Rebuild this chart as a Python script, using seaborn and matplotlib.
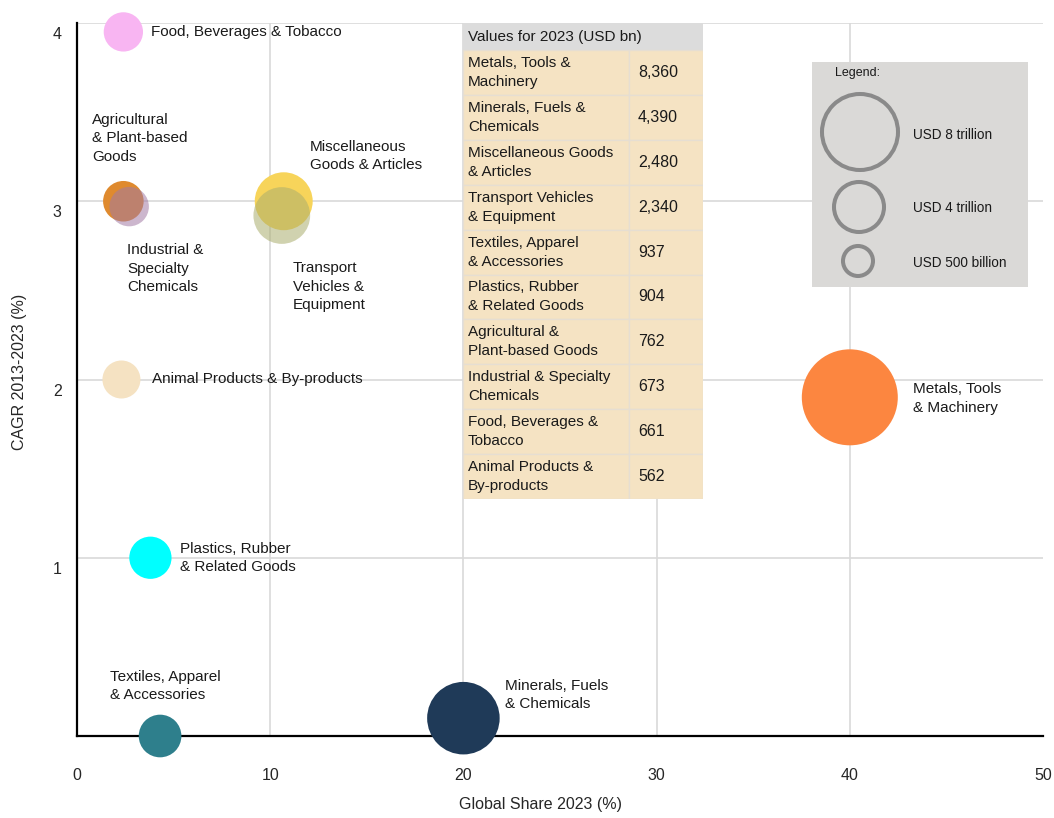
import numpy as np
import pandas as pd
import seaborn as sns
import matplotlib.pyplot as plt
from matplotlib.patches import Rectangle
from matplotlib.transforms import ScaledTranslation

# data (USD bn, global share %, CAGR %)
categories = ['Metals, Tools & Machinery', 'Minerals, Fuels & Chemicals',
              'Miscellaneous Goods & Articles', 'Transport Vehicles & Equipment',
              'Textiles, Apparel & Accessories', 'Plastics, Rubber & Related Goods',
              'Agricultural & Plant-based Goods', 'Industrial & Specialty Chemicals',
              'Food, Beverages & Tobacco', 'Animal Products & By-products']
values_2023 = [8360, 4390, 2480, 2340, 937, 904, 762, 673, 661, 562]
global_share = [40.0, 20.0, 10.7, 10.6, 4.3, 3.8, 2.4, 2.7, 2.4, 2.3]
cagr = [1.90, 0.10, 3.00, 2.92, 0.0, 1.0, 3.0, 2.97, 3.95, 2.0]

bubble_labels = ['Metals, Tools\n& Machinery', 'Minerals, Fuels\n& Chemicals',
                 'Miscellaneous\nGoods & Articles', 'Transport\nVehicles &\nEquipment',
                 'Textiles, Apparel\n& Accessories', 'Plastics, Rubber\n& Related Goods',
                 'Agricultural\n& Plant-based\nGoods', 'Industrial &\nSpecialty\nChemicals',
                 'Food, Beverages & Tobacco', 'Animal Products & By-products']
table_labels = ['Metals, Tools &\nMachinery', 'Minerals, Fuels &\nChemicals',
                'Miscellaneous Goods\n& Articles', 'Transport Vehicles\n& Equipment',
                'Textiles, Apparel\n& Accessories', 'Plastics, Rubber\n& Related Goods',
                'Agricultural &\nPlant-based Goods', 'Industrial & Specialty\nChemicals',
                'Food, Beverages &\nTobacco', 'Animal Products &\nBy-products']

legend_labels = ['USD 8 trillion', 'USD 4 trillion', 'USD 500 billion']

colors = ['#FC8640', '#1F3A58', '#F7D45A', '#ABAE6E', '#2E7F8C',
          '#00FFFF', '#DF8A2E', '#A27AA4', '#F8B5F2', '#F5E2C2']
translucent = [False, False, False, True, False, False, False, True, False, False]

# label offsets from bubble centre, pixels
label_offsets = [(63, -1), (42, 23), (26, 45), (11, -71), (-50, 50),
                 (30, 0), (-31, 63), (-2, -62), (28, 0), (31, 0)]

df = pd.DataFrame({'cat': categories, 'value': values_2023,
                   'share': global_share, 'cagr': cagr,
                   'translucent': translucent})
palette = dict(zip(categories, colors))

sns.set_style('white')
plt.rcParams['font.family'] = ['Liberation Sans', 'DejaVu Sans']
plt.rcParams['text.color'] = '#1A1A1A'

fig = plt.figure(figsize=(10.54, 8.18), dpi=100)
ax = fig.add_axes([77/1054, 82/818, 966/1054, 713/818])

size_kw = dict(size='value', sizes=(749, 4777), size_norm=(562, 8360),
               hue='cat', palette=palette, legend=False, linewidth=0, clip_on=False)
sns.scatterplot(data=df[~df['translucent']], x='share', y='cagr', ax=ax, zorder=3, **size_kw)
sns.scatterplot(data=df[df['translucent']], x='share', y='cagr', ax=ax, alpha=0.55, zorder=4, **size_kw)

for lab, x, y, off in zip(bubble_labels, global_share, cagr, label_offsets):
    ax.annotate(lab, (x, y), xytext=off, textcoords='offset pixels',
                ha='left', va='center', fontsize=11, linespacing=1.4, zorder=6)

ax.set_xlim(0, 50)
ax.set_ylim(0, 4)
ax.set_xticks([0, 10, 20, 30, 40, 50])
ax.set_yticks([1, 2, 3, 4])
ax.grid(True, color='#D9D9D9', linewidth=1.2, zorder=0)
ax.set_axisbelow(True)
ax.xaxis.get_gridlines()[-1].set_visible(False)
for s in ['top', 'right']:
    ax.spines[s].set_visible(False)
for s in ['left', 'bottom']:
    ax.spines[s].set_color('black')
    ax.spines[s].set_linewidth(1.6)
ax.tick_params(axis='x', length=0, pad=23, labelsize=11.5)
ax.tick_params(axis='y', length=0, pad=11, labelsize=11.5)
for t in ax.get_yticklabels():
    t.set_transform(t.get_transform() + ScaledTranslation(0, -0.10, fig.dpi_scale_trans))

ax.set_xlabel('Global Share 2023 (%)', fontsize=11.5)
ax.set_ylabel('CAGR 2013-2023 (%)', fontsize=11.5)
ax.xaxis.set_label_coords(0.48, -0.086)
ax.yaxis.set_label_coords(-0.052, 0.51)

# value table
tab = fig.add_axes([463/1054, (818-499)/818, 240/1054, 476/818])
tab.set_xlim(0, 240)
tab.set_ylim(476, 0)
tab.axis('off')
tab.add_patch(Rectangle((0, 0), 240, 27, facecolor='#DCDCDC', edgecolor='none'))
tab.text(5, 14, 'Values for 2023 (USD bn)', ha='left', va='center', fontsize=11)
row_h = (476 - 27) / len(categories)
for i, (lab, v) in enumerate(zip(table_labels, values_2023)):
    y0 = 27 + i * row_h
    tab.add_patch(Rectangle((0, y0), 166, row_h, facecolor='#F5E3C3', edgecolor='#E6DED2', linewidth=1))
    tab.add_patch(Rectangle((166, y0), 74, row_h, facecolor='#F5E3C3', edgecolor='#E6DED2', linewidth=1))
    tab.text(5, y0 + row_h / 2, lab, ha='left', va='center', fontsize=11, linespacing=1.45)
    tab.text(175, y0 + row_h / 2, f'{v:,}', ha='left', va='center', fontsize=11.5)

# size legend
leg = fig.add_axes([812/1054, (818-287)/818, 216/1054, 225/818])
leg.set_xlim(0, 216)
leg.set_ylim(225, 0)
leg.set_facecolor('#DAD9D7')
for s in leg.spines.values():
    s.set_visible(False)
leg.set_xticks([])
leg.set_yticks([])
leg.text(23, 11, 'Legend:', ha='left', va='center', fontsize=9)
circle_y = [70, 145, 199]
circle_x = [48, 47, 46]
circle_r = [38, 25, 15]
leg.scatter(circle_x, circle_y, s=[(2 * r * 0.72) ** 2 for r in circle_r],
            facecolors='none', edgecolors='#8A8A8A', linewidths=2.9, clip_on=False)
for lab, y in zip(legend_labels, [73, 146, 201]):
    leg.text(101, y, lab, ha='left', va='center', fontsize=9.8)

fig.savefig('out.png', dpi=100)
